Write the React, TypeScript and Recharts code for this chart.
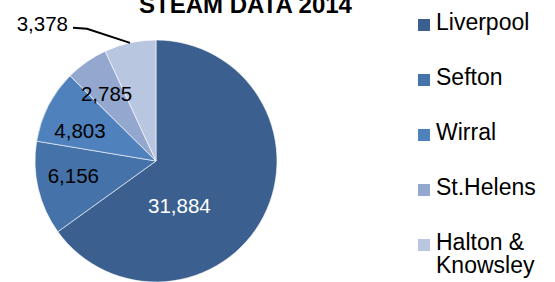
import { PieChart, Pie, Cell, Legend } from "recharts";

document.body.style.margin = "0";

const areas = ["Liverpool", "Sefton", "Wirral", "St.Helens", "Halton & Knowsley"];
const counts = [31884, 6156, 4803, 2785, 3378];
const COLORS = ["#3B5F8E", "#4572A9", "#4F81BD", "#93A7CF", "#B9C6E0"];

const data = areas.map((name, i) => ({ name, value: counts[i] }));

// label placement tweaks (radius from centre, angle shift in degrees)
const labelLayout = [
  { r: 50, shift: -35, color: "#fff" },
  { r: 84, shift: -3, color: "#000" },
  { r: 82, shift: 5, color: "#000" },
  { r: 84, shift: 1, color: "#000" },
  { r: -1, shift: 0, color: "#000" },
];

const RAD = Math.PI / 180;

const renderLabel = (props: any) => {
  const { cx, cy, midAngle, outerRadius, index, value } = props;
  const text = value.toLocaleString("en-US");
  const lay = labelLayout[index];
  if (lay.r < 0) {
    const ex = cx + outerRadius * Math.cos(midAngle * RAD);
    const ey = cy - outerRadius * Math.sin(midAngle * RAD);
    const mx = ex - 43;
    const my = ey - 14;
    const lx = mx - 14;
    return (
      <g>
        <polyline points={`${ex},${ey} ${mx},${my} ${lx},${my - 1}`} fill="none" stroke="#000" strokeWidth={2} />
        <text x={lx - 5} y={my - 5} textAnchor="end" dominantBaseline="central" fill={lay.color} fontSize={20.5} fontFamily="Liberation Sans, Arial, sans-serif">
          {text}
        </text>
      </g>
    );
  }
  const a = (midAngle + lay.shift) * RAD;
  const x = cx + lay.r * Math.cos(a);
  const y = cy - lay.r * Math.sin(a);
  return (
    <text x={x} y={y} textAnchor="middle" dominantBaseline="central" fill={lay.color} fontSize={20.5} fontFamily="Liberation Sans, Arial, sans-serif">
      {text}
    </text>
  );
};

const renderLegend = () => (
  <div style={{ fontFamily: "Liberation Sans, Arial, sans-serif", fontSize: 23, color: "#000" }}>
    {data.map((d, i) => (
      <div key={d.name} style={{ display: "flex", alignItems: "flex-start", height: 55 }}>
        <div style={{ width: 12, height: 12, background: COLORS[i], marginTop: 8, marginRight: 6, flexShrink: 0 }} />
        <div style={{ lineHeight: "23px", width: 115 }}>{d.name}</div>
      </div>
    ))}
  </div>
);

export default function App() {
  return (
    <div style={{ position: "relative", width: 555, height: 282, background: "#fff", overflow: "hidden" }}>
      <div
        style={{
          position: "absolute",
          left: 139,
          top: -9,
          fontFamily: "Liberation Sans, Arial, sans-serif",
          fontWeight: "bold",
          fontSize: 24,
          whiteSpace: "nowrap",
          lineHeight: "28px",
        }}
      >
        STEAM DATA 2014
      </div>
      <PieChart width={555} height={282} margin={{ top: 0, right: 0, bottom: 0, left: 0 }}>
        <Pie
          data={data}
          dataKey="value"
          nameKey="name"
          cx={156}
          cy={161}
          outerRadius={121}
          startAngle={90}
          endAngle={-270}
          stroke="#fff"
          strokeWidth={0.6}
          label={renderLabel}
          labelLine={false}
          isAnimationActive={false}
        >
          {data.map((d, i) => (
            <Cell key={d.name} fill={COLORS[i]} />
          ))}
        </Pie>
        <Legend
          content={renderLegend}
          wrapperStyle={{ position: "absolute", left: 418, top: 11, width: 137 }}
        />
      </PieChart>
    </div>
  );
}
